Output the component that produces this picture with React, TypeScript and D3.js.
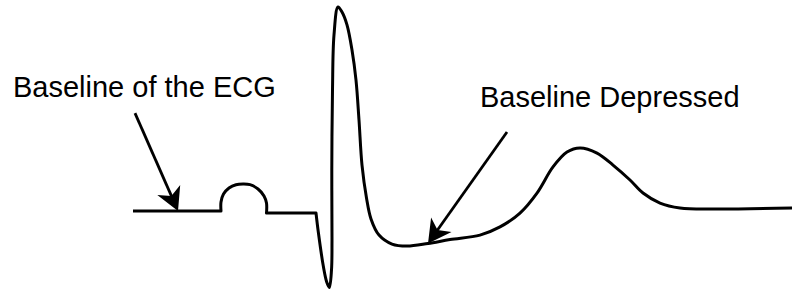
import { useMemo } from "react";
import * as d3 from "d3";

// waveform samples: [time (ms), amplitude (R peak = 1)]
const isoBefore: [number, number][] = [
  [0, 0],
  [88, 0],
];

const pWave: [number, number][] = [
  [88, 0],
  [88, 0.044],
  [90.5, 0.083],
  [96, 0.113],
  [103, 0.129],
  [110, 0.132],
  [117, 0.129],
  [125, 0.108],
  [131, 0.074],
  [133.5, 0.039],
  [133.5, -0.01],
];

const prSegment: [number, number][] = [
  [133.5, -0.01],
  [183, -0.01],
];

const qrstWave: [number, number][] = [
  [183, -0.01],
  [185.3, -0.103],
  [190.3, -0.27],
  [193.7, -0.348],
  [196.3, -0.375],
  [198.5, -0.289],
  [199, -0.142],
  [198.8, 0.201],
  [199.5, 0.593],
  [201, 0.863],
  [205, 1.0],
  [209, 0.975],
  [214, 0.912],
  [219, 0.789],
  [223, 0.642],
  [226, 0.446],
  [229, 0.225],
  [233.5, 0.064],
  [238, -0.039],
  [246, -0.118],
  [259, -0.162],
  [274, -0.172],
  [295, -0.159],
  [317, -0.14],
  [347, -0.118],
  [367, -0.078],
  [387, -0.01],
  [404, 0.088],
  [420, 0.216],
  [434, 0.289],
  [447, 0.309],
  [464, 0.284],
  [480, 0.225],
  [497, 0.152],
  [510, 0.088],
  [527, 0.039],
  [547, 0.015],
  [580, 0.01],
  [659, 0.015],
];

const labels = ["Baseline of the ECG", "Baseline Depressed"];
// arrow tails and tips, in the same [time, amplitude] units
const arrowTails: [number, number][] = [
  [2, 0.48],
  [374, 0.387],
];
const arrowTips: [number, number][] = [
  [45, 0],
  [295, -0.159],
];

const W = 792;
const H = 291;

export default function App() {
  const x = useMemo(() => d3.scaleLinear().domain([0, 660]).range([133, 793]), []);
  const y = useMemo(() => d3.scaleLinear().domain([0, 1]).range([211, 7]), []);

  const straight = d3
    .line<[number, number]>()
    .x((d) => x(d[0]))
    .y((d) => y(d[1]));
  const smooth = d3
    .line<[number, number]>()
    .x((d) => x(d[0]))
    .y((d) => y(d[1]))
    .curve(d3.curveCatmullRom.alpha(0.5));

  const pathD =
    (straight(isoBefore) ?? "") +
    (smooth(pWave) ?? "").replace(/^M/, "L") +
    (straight(prSegment) ?? "").replace(/^M/, "L") +
    (smooth(qrstWave) ?? "").replace(/^M/, "L");

  const labelPos = [
    { x: 13, y: 97 },
    { x: 480, y: 107 },
  ];

  return (
    <svg
      width={W}
      height={H}
      style={{ position: "absolute", left: 0, top: 0, background: "#fff" }}
    >
      <defs>
        <marker
          id="head"
          viewBox="-26 -14 28 28"
          refX={0}
          refY={0}
          markerWidth={28}
          markerHeight={28}
          markerUnits="userSpaceOnUse"
          orient="auto"
        >
          <path d="M0,0 L-23,-12.5 L-16.5,0 L-23,12.5 Z" fill="#000" />
        </marker>
      </defs>
      <path
        d={pathD}
        fill="none"
        stroke="#000"
        strokeWidth={3}
        strokeLinejoin="round"
      />
      {arrowTails.map((t, i) => {
        const tip = arrowTips[i];
        const x1 = x(t[0]);
        const y1 = y(t[1]);
        const x2 = x(tip[0]);
        const y2 = y(tip[1]);
        const len = Math.hypot(x2 - x1, y2 - y1);
        const ux = (x2 - x1) / len;
        const uy = (y2 - y1) / len;
        return (
          <g key={i}>
            <line
              x1={x1}
              y1={y1}
              x2={x2 - ux * 14}
              y2={y2 - uy * 14}
              stroke="#000"
              strokeWidth={2.8}
            />
            <line
              x1={x2 - ux * 15}
              y1={y2 - uy * 15}
              x2={x2}
              y2={y2}
              stroke="none"
              markerEnd="url(#head)"
            />
          </g>
        );
      })}
      {labels.map((s, i) => (
        <text
          key={s}
          x={labelPos[i].x}
          y={labelPos[i].y}
          fontFamily="'Liberation Sans', Arial, sans-serif"
          fontSize={29}
          fill="#000"
        >
          {s}
        </text>
      ))}
    </svg>
  );
}
